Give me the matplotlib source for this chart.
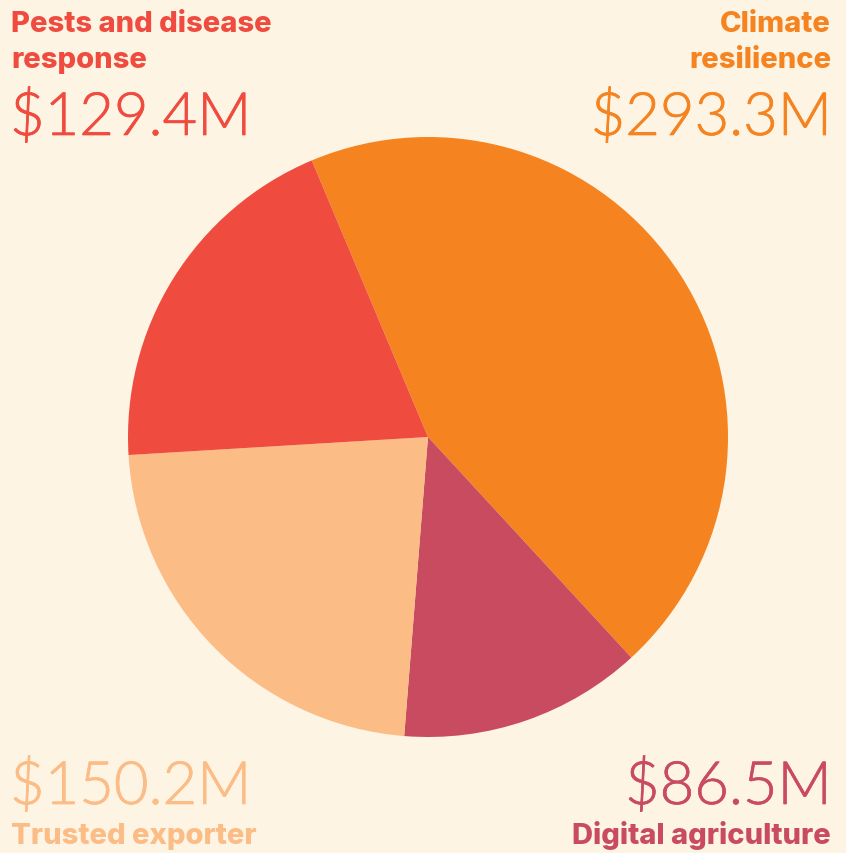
import matplotlib.pyplot as plt
import matplotlib.patheffects as pe

# spending by theme, $M
categories = ['Climate resilience', 'Digital agriculture', 'Trusted exporter', 'Pests and disease response']
values = [293.3, 86.5, 150.2, 129.4]
colors = ['#F58320', '#C84B5F', '#FBBC85', '#EF4B3F']
bg = '#FEF4E4'

fig = plt.figure(figsize=(8.46, 8.54), dpi=100, facecolor=bg)
ax = fig.add_axes([128 / 846, 116 / 854, 600 / 846, 600 / 854])
ax.pie(values, colors=colors, startangle=112.8, counterclock=False,
       wedgeprops={'linewidth': 0})
ax.set_xlim(-1, 1)
ax.set_ylim(-1, 1)
ax.set_aspect('equal')
ax.axis('off')

bold = dict(family=['Inter', 'DejaVu Sans'], weight=800, fontsize=21)
light = dict(family=['Lato', 'DejaVu Sans'], weight=300, fontsize=43)


def px(x, y):
    return x / 846, 1 - y / 854


def money(v):
    return '$%.1fM' % v


def value_text(x, y, v, c, ha):
    t = fig.text(*px(x, y), money(v), color=c, ha=ha, va='baseline', **light)
    t.set_path_effects([pe.withStroke(linewidth=0.5, foreground=c)])


# top left: pests
fig.text(*px(11, 32), 'Pests and disease', color=colors[3], ha='left', va='baseline', **bold)
fig.text(*px(11, 68), 'response', color=colors[3], ha='left', va='baseline', **bold)
value_text(10, 136, values[3], colors[3], 'left')

# top right: climate
fig.text(*px(831, 32), 'Climate', color=colors[0], ha='right', va='baseline', **bold)
fig.text(*px(831, 68), 'resilience', color=colors[0], ha='right', va='baseline', **bold)
value_text(832, 136, values[0], colors[0], 'right')

# bottom left: trusted exporter
value_text(10, 805, values[2], colors[2], 'left')
fig.text(*px(11, 844), 'Trusted exporter', color=colors[2], ha='left', va='baseline', **bold)

# bottom right: digital
value_text(832, 805, values[1], colors[1], 'right')
fig.text(*px(831, 844), 'Digital agriculture', color=colors[1], ha='right', va='baseline', **bold)

fig.savefig('out.png', dpi=100, facecolor=bg)
